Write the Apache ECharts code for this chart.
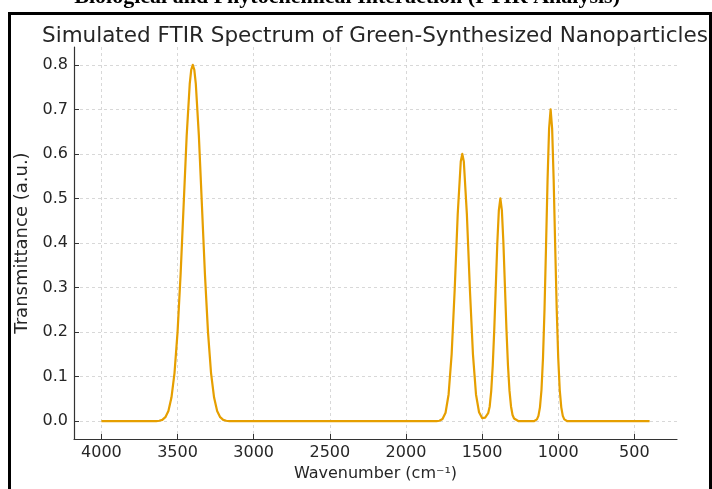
<!DOCTYPE html>
<html><head><meta charset="utf-8">
<script src="https://cdn.jsdelivr.net/npm/echarts@6/dist/echarts.min.js"></script>
<style>html,body{margin:0;padding:0;background:#fff}#c{width:712px;height:489px}</style>
</head><body><div id="c"></div>
<script>
// Wavenumber (cm^-1) and transmittance
const wavenumber = [4000,3660,3640,3620,3600,3580,3560,3540,3520,3500,3480,3460,3440,3420,3410,3400,3390,3380,3360,3340,3320,3300,3280,3260,3240,3220,3200,3180,3160,
  1820,1800,1780,1760,1740,1720,1700,1680,1660,1640,1630,1620,1600,1580,1560,1540,1520,1500,1480,1460,1450,1440,1430,1420,1410,1400,1390,1380,1370,1360,1350,1340,1330,1320,1310,1300,1290,1280,1260,
  1160,1150,1140,1130,1120,1110,1100,1090,1080,1070,1060,1050,1040,1030,1020,1010,1000,990,980,970,960,950,940,400];
const transmittance = [0,0,0,0.001,0.003,0.009,0.023,0.053,0.108,0.200,0.329,0.485,0.641,0.757,0.789,0.800,0.789,0.757,0.641,0.485,0.329,0.200,0.108,0.053,0.023,0.009,0.003,0.001,0,
  0,0,0.001,0.005,0.019,0.060,0.150,0.295,0.465,0.583,0.600,0.583,0.465,0.295,0.150,0.060,0.020,0.007,0.008,0.018,0.033,0.068,0.125,0.206,0.303,0.400,0.473,0.500,0.473,0.400,0.303,0.206,0.125,0.068,0.033,0.014,0.006,0.002,0,
  0,0.001,0.004,0.012,0.031,0.070,0.142,0.252,0.394,0.542,0.657,0.700,0.657,0.542,0.394,0.252,0.142,0.070,0.031,0.012,0.004,0.001,0,0];
const xTicks = [4000,3500,3000,2500,2000,1500,1000,500];
const yTicks = [0,0.1,0.2,0.3,0.4,0.5,0.6,0.7,0.8];
const chartTitle = 'Simulated FTIR Spectrum of Green-Synthesized Nanoparticles';
const headerText = 'Biological and Phytochemical Interaction (FTIR Analysis)';
const xName = 'Wavenumber (cm\u207B\u00B9)';
const yName = 'Transmittance (a.u.)';

const points = wavenumber.map((w, i) => [w, transmittance[i]]);
const chart = echarts.init(document.getElementById('c'), null, {renderer: 'canvas'});
const font = 'DejaVu Sans';
const gridLine = {show: true, lineStyle: {color: '#cfcfcf', width: 0.8, type: [3, 3]}};
chart.setOption({
  animation: false,
  backgroundColor: '#ffffff',
  title: {
    text: chartTitle, left: 370, top: 20, textAlign: 'center',
    textStyle: {fontFamily: font, fontSize: 21.5, fontWeight: 'normal', color: '#262626'}
  },
  grid: {left: 74, right: 35, top: 47, bottom: 50, containLabel: false},
  xAxis: {
    type: 'value', inverse: true, min: 220, max: 4180,
    name: xName, nameLocation: 'middle', nameGap: 22,
    nameTextStyle: {fontFamily: font, fontSize: 16, color: '#262626'},
    axisLine: {show: true, onZero: false, lineStyle: {color: '#333', width: 1.2}},
    axisTick: {show: true, inside: true, length: 5, customValues: xTicks, lineStyle: {color: '#333', width: 1}},
    axisLabel: {customValues: xTicks, margin: 6, fontFamily: font, fontSize: 16, color: '#262626',
      formatter: v => String(v)},
    splitLine: gridLine
  },
  yAxis: {
    type: 'value', min: -0.04, max: 0.84,
    name: yName, nameLocation: 'middle', nameGap: 37,
    nameTextStyle: {fontFamily: font, fontSize: 18, color: '#262626'},
    axisLine: {show: true, onZero: false, lineStyle: {color: '#333', width: 1.2}},
    axisTick: {show: true, inside: true, length: 5, customValues: yTicks, lineStyle: {color: '#333', width: 1}},
    axisLabel: {customValues: yTicks, margin: 6, fontFamily: font, fontSize: 16, color: '#262626',
      formatter: v => v.toFixed(1)},
    splitLine: gridLine
  },
  series: [{
    type: 'line', data: points, showSymbol: false, smooth: false,
    lineStyle: {color: '#E69F00', width: 2.2, join: 'round'}, itemStyle: {color: '#E69F00'}
  }],
  graphic: [
    {type: 'text', x: 620, y: 8, style: {text: headerText, fill: '#000', font: 'bold 22px "Liberation Serif"', textAlign: 'right', textVerticalAlign: 'bottom'}},
    {type: 'rect', shape: {x: 8, y: 12, width: 3, height: 477}, style: {fill: '#000'}},
    {type: 'rect', shape: {x: 8, y: 12, width: 704, height: 3}, style: {fill: '#000'}},
    {type: 'rect', shape: {x: 709, y: 12, width: 3, height: 477}, style: {fill: '#000'}}
  ]
});
</script>
</body></html>
